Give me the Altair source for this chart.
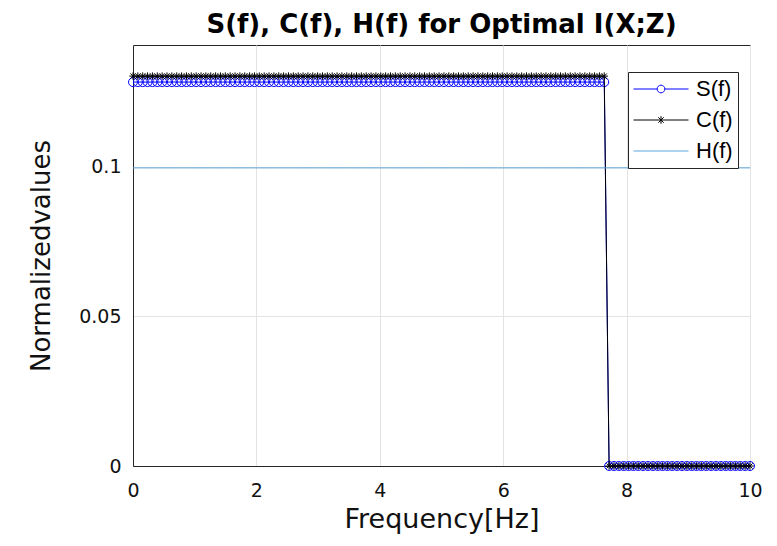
import altair as alt
import pandas as pd

# ---- data ----
N_POINTS = 128                      # samples between 0 and 10 Hz
freq = [round(10 * i / (N_POINTS - 1), 4) for i in range(N_POINTS)]
N_HIGH = 98                         # samples before the cut-off (~7.7 Hz)
S_LEVEL = 0.1284
C_LEVEL = 0.1304
H_LEVEL = 0.0997
s_vals = [S_LEVEL] * N_HIGH + [0.0] * (N_POINTS - N_HIGH)
c_vals = [C_LEVEL] * N_HIGH + [0.0] * (N_POINTS - N_HIGH)
h_vals = [H_LEVEL] * N_POINTS

series = ["S(f)", "C(f)", "H(f)"]
colors = ["#0000FF", "#000000", "#5AA5DC"]
x_ticks = [0, 2, 4, 6, 8, 10]
y_ticks = [0, 0.05, 0.1]

rows = []
for name, vals in zip(series, [s_vals, c_vals, h_vals]):
    for f, v in zip(freq, vals):
        rows.append({"f": f, "v": v, "series": name})
df = pd.DataFrame(rows)

ASTERISK = "M0,-1L0,1M-1,0L1,0M-0.7,-0.7L0.7,0.7M-0.7,0.7L0.7,-0.7"
r = 0.14
LEG_S = f"M-1,0L-{r},0A{r},{r} 0 1,1 {r},0A{r},{r} 0 1,1 -{r},0M{r},0L1,0"
a = 0.14
LEG_C = (f"M-1,0L1,0M0,-{a}L0,{a}M-{a*0.7:.3f},-{a*0.7:.3f}L{a*0.7:.3f},{a*0.7:.3f}"
         f"M-{a*0.7:.3f},{a*0.7:.3f}L{a*0.7:.3f},-{a*0.7:.3f}")
LEG_H = "M-1,0L1,0"

x_enc = alt.X("f:Q", scale=alt.Scale(domain=[0, 10], nice=False),
              axis=alt.Axis(values=x_ticks, title="Frequency[Hz]", format="~r",
                            labelFlush=False))
y_enc = alt.Y("v:Q", scale=alt.Scale(domain=[0, 0.1408], nice=False, zero=False),
              axis=alt.Axis(values=y_ticks, title="Normalizedvalues", format="~r"))

base = alt.Chart(df)

def only(name):
    return base.transform_filter(alt.datum.series == name)

s_line = only("S(f)").mark_line(color=colors[0], strokeWidth=1).encode(x=x_enc, y=y_enc)
s_pts = only("S(f)").mark_point(shape="circle", filled=False, color=colors[0],
                                 size=80, strokeWidth=1, opacity=1).encode(x=x_enc, y=y_enc)
c_line = only("C(f)").mark_line(color=colors[1], strokeWidth=1).encode(x=x_enc, y=y_enc)
c_pts = only("C(f)").mark_point(shape=ASTERISK, filled=False, color=colors[1],
                                size=55, strokeWidth=1, opacity=1).encode(x=x_enc, y=y_enc)
h_line = only("H(f)").mark_line(color=colors[2], strokeWidth=1).encode(x=x_enc, y=y_enc)

legend_layer = base.transform_filter("datum.v < -1").mark_point(
    filled=False, strokeWidth=1, opacity=1
).encode(
    x=x_enc, y=y_enc,
    color=alt.Color("series:N", scale=alt.Scale(domain=series, range=colors),
                    legend=alt.Legend(title=None)),
    shape=alt.Shape("series:N", scale=alt.Scale(domain=series, range=[LEG_S, LEG_C, LEG_H]),
                    legend=alt.Legend(title=None)),
)

chart = alt.layer(s_line, s_pts, c_line, c_pts, h_line, legend_layer).properties(
    width=617, height=421,
    autosize=alt.AutoSizeParams(type="none"),
    padding={"left": 125, "top": 37, "right": 19, "bottom": 72},
    title=alt.Title("S(f), C(f), H(f) for Optimal I(X;Z)", font="DejaVu Sans",
                    fontSize=26, fontWeight="bold", color="#000000",
                    anchor="middle", baseline="bottom", offset=10, dy=29),
).configure_view(
    stroke="#262626", strokeWidth=1
).configure_axis(
    ticks=False, domainColor="#262626", domainWidth=1,
    grid=True, gridColor="#e3e3e3", gridWidth=1,
    labelFont="DejaVu Sans", labelFontSize=19, labelColor="#111111",
    titleFont="DejaVu Sans", titleFontWeight="normal", titleColor="#111111",
).configure_axisX(
    labelPadding=15, titleFontSize=27, titlePadding=6,
).configure_axisY(
    labelPadding=12, titleFontSize=26, titlePadding=24,
).configure_legend(
    orient="none", legendX=495, legendY=27, padding=5,
    strokeColor="#262626", fillColor="white",
    symbolSize=3025, symbolStrokeWidth=1, symbolOpacity=1, clipHeight=24,
    rowPadding=7, labelFont="Liberation Sans", labelFontSize=22,
    labelColor="#000000", labelOffset=7,
)

chart.save("out.html", embed_options={"renderer": "svg", "actions": False})
